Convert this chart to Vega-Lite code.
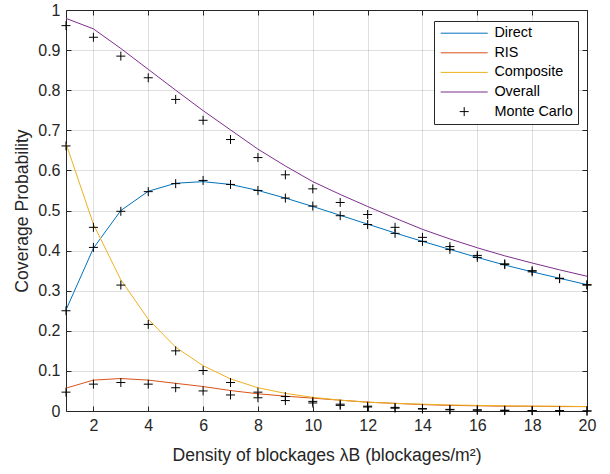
{
  "$schema": "https://vega.github.io/schema/vega-lite/v6.json",
  "width": 521,
  "height": 401,
  "autosize": {"type": "none"},
  "padding": {"left": 66, "top": 10, "right": 23, "bottom": 63},
  "background": "white",
  "config": {
    "font": "Liberation Sans",
    "view": {"stroke": null},
    "axis": {
      "domainColor": "#262626",
      "domainWidth": 1,
      "tickColor": "#262626",
      "tickWidth": 1,
      "tickSize": -5,
      "labelColor": "#262626",
      "labelFont": "Liberation Sans",
      "labelFontSize": 16,
      "labelFlush": false,
      "labelOverlap": false,
      "titleColor": "#262626",
      "titleFont": "Liberation Sans",
      "titleFontSize": 17.6,
      "titleFontWeight": "normal",
      "gridColor": "#262626",
      "gridOpacity": 0.15,
      "gridWidth": 1
    }
  },
  "datasets": {
    "lines": [
      {"x":1,"y":0.252,"s":"Direct"},{"x":2,"y":0.406,"s":"Direct"},{"x":3,"y":0.500,"s":"Direct"},{"x":4,"y":0.548,"s":"Direct"},{"x":5,"y":0.568,"s":"Direct"},{"x":6,"y":0.572,"s":"Direct"},{"x":7,"y":0.565,"s":"Direct"},{"x":8,"y":0.550,"s":"Direct"},{"x":9,"y":0.531,"s":"Direct"},{"x":10,"y":0.510,"s":"Direct"},{"x":11,"y":0.488,"s":"Direct"},{"x":12,"y":0.466,"s":"Direct"},{"x":13,"y":0.444,"s":"Direct"},{"x":14,"y":0.423,"s":"Direct"},{"x":15,"y":0.403,"s":"Direct"},{"x":16,"y":0.383,"s":"Direct"},{"x":17,"y":0.364,"s":"Direct"},{"x":18,"y":0.347,"s":"Direct"},{"x":19,"y":0.331,"s":"Direct"},{"x":20,"y":0.315,"s":"Direct"},
      {"x":1,"y":0.057,"s":"RIS"},{"x":2,"y":0.077,"s":"RIS"},{"x":3,"y":0.081,"s":"RIS"},{"x":4,"y":0.077,"s":"RIS"},{"x":5,"y":0.069,"s":"RIS"},{"x":6,"y":0.061,"s":"RIS"},{"x":7,"y":0.051,"s":"RIS"},{"x":8,"y":0.043,"s":"RIS"},{"x":9,"y":0.037,"s":"RIS"},{"x":10,"y":0.032,"s":"RIS"},{"x":11,"y":0.027,"s":"RIS"},{"x":12,"y":0.022,"s":"RIS"},{"x":13,"y":0.019,"s":"RIS"},{"x":14,"y":0.016,"s":"RIS"},{"x":15,"y":0.014,"s":"RIS"},{"x":16,"y":0.013,"s":"RIS"},{"x":17,"y":0.012,"s":"RIS"},{"x":18,"y":0.012,"s":"RIS"},{"x":19,"y":0.011,"s":"RIS"},{"x":20,"y":0.011,"s":"RIS"},
      {"x":1,"y":0.667,"s":"Composite"},{"x":2,"y":0.466,"s":"Composite"},{"x":3,"y":0.327,"s":"Composite"},{"x":4,"y":0.229,"s":"Composite"},{"x":5,"y":0.159,"s":"Composite"},{"x":6,"y":0.113,"s":"Composite"},{"x":7,"y":0.080,"s":"Composite"},{"x":8,"y":0.058,"s":"Composite"},{"x":9,"y":0.044,"s":"Composite"},{"x":10,"y":0.034,"s":"Composite"},{"x":11,"y":0.027,"s":"Composite"},{"x":12,"y":0.022,"s":"Composite"},{"x":13,"y":0.019,"s":"Composite"},{"x":14,"y":0.017,"s":"Composite"},{"x":15,"y":0.015,"s":"Composite"},{"x":16,"y":0.014,"s":"Composite"},{"x":17,"y":0.013,"s":"Composite"},{"x":18,"y":0.012,"s":"Composite"},{"x":19,"y":0.012,"s":"Composite"},{"x":20,"y":0.011,"s":"Composite"},
      {"x":1,"y":0.979,"s":"Overall"},{"x":2,"y":0.953,"s":"Overall"},{"x":3,"y":0.904,"s":"Overall"},{"x":4,"y":0.852,"s":"Overall"},{"x":5,"y":0.800,"s":"Overall"},{"x":6,"y":0.749,"s":"Overall"},{"x":7,"y":0.701,"s":"Overall"},{"x":8,"y":0.653,"s":"Overall"},{"x":9,"y":0.611,"s":"Overall"},{"x":10,"y":0.572,"s":"Overall"},{"x":11,"y":0.540,"s":"Overall"},{"x":12,"y":0.510,"s":"Overall"},{"x":13,"y":0.481,"s":"Overall"},{"x":14,"y":0.453,"s":"Overall"},{"x":15,"y":0.429,"s":"Overall"},{"x":16,"y":0.407,"s":"Overall"},{"x":17,"y":0.387,"s":"Overall"},{"x":18,"y":0.369,"s":"Overall"},{"x":19,"y":0.352,"s":"Overall"},{"x":20,"y":0.336,"s":"Overall"}
    ],
    "mc": [
      {"x":1,"y":0.250},{"x":2,"y":0.408},{"x":3,"y":0.498},{"x":4,"y":0.547},{"x":5,"y":0.567},{"x":6,"y":0.575},{"x":7,"y":0.565},{"x":8,"y":0.550},{"x":9,"y":0.531},{"x":10,"y":0.511},{"x":11,"y":0.487},{"x":12,"y":0.465},{"x":13,"y":0.443},{"x":14,"y":0.423},{"x":15,"y":0.403},{"x":16,"y":0.383},{"x":17,"y":0.365},{"x":18,"y":0.347},{"x":19,"y":0.330},{"x":20,"y":0.314},
      {"x":1,"y":0.961},{"x":2,"y":0.932},{"x":3,"y":0.885},{"x":4,"y":0.831},{"x":5,"y":0.777},{"x":6,"y":0.725},{"x":7,"y":0.677},{"x":8,"y":0.632},{"x":9,"y":0.589},{"x":10,"y":0.554},{"x":11,"y":0.520},{"x":12,"y":0.490},{"x":13,"y":0.458},{"x":14,"y":0.433},{"x":15,"y":0.410},{"x":16,"y":0.388},{"x":17,"y":0.367},{"x":18,"y":0.350},{"x":19,"y":0.331},{"x":20,"y":0.315},
      {"x":1,"y":0.661},{"x":2,"y":0.458},{"x":3,"y":0.314},{"x":4,"y":0.216},{"x":5,"y":0.150},{"x":6,"y":0.101},{"x":7,"y":0.071},{"x":8,"y":0.047},{"x":9,"y":0.036},{"x":10,"y":0.024},{"x":11,"y":0.017},{"x":12,"y":0.012},{"x":13,"y":0.009},{"x":14,"y":0.006},{"x":15,"y":0.004},{"x":16,"y":0.003},{"x":17,"y":0.002},{"x":18,"y":0.001},{"x":19,"y":0.001},{"x":20,"y":0.000},
      {"x":1,"y":0.047},{"x":2,"y":0.067},{"x":3,"y":0.071},{"x":4,"y":0.067},{"x":5,"y":0.058},{"x":6,"y":0.050},{"x":7,"y":0.040},{"x":8,"y":0.033},{"x":9,"y":0.026},{"x":10,"y":0.020},{"x":11,"y":0.014},{"x":12,"y":0.010},{"x":13,"y":0.007},{"x":14,"y":0.005},{"x":15,"y":0.003},{"x":16,"y":0.002},{"x":17,"y":0.001},{"x":18,"y":0.001},{"x":19,"y":0.000},{"x":20,"y":0.000}
    ]
  },
  "resolve": {"axis": {"x": "independent", "y": "independent"}},
  "layer": [
    {
      "data": {"name": "lines"},
      "mark": {"type": "line", "strokeWidth": 1, "clip": false},
      "encoding": {
        "x": {
          "field": "x", "type": "quantitative",
          "scale": {"domain": [1, 20], "nice": false, "zero": false},
          "axis": {
            "orient": "bottom",
            "values": [2,4,6,8,10,12,14,16,18,20],
            "format": "d",
            "labelPadding": 11,
            "grid": true,
            "title": "Density of blockages λB (blockages/m²)",
            "titlePadding": 13
          }
        },
        "y": {
          "field": "y", "type": "quantitative",
          "scale": {"domain": [0, 1], "nice": false},
          "axis": {
            "orient": "left",
            "values": [0,0.1,0.2,0.3,0.4,0.5,0.6,0.7,0.8,0.9,1],
            "format": ".1~f",
            "labelPadding": 11,
            "grid": true,
            "title": "Coverage Probability",
            "titlePadding": 6
          }
        },
        "color": {
          "field": "s", "type": "nominal",
          "scale": {
            "domain": ["Direct", "RIS", "Composite", "Overall", "Monte Carlo"],
            "range": ["#0072BD", "#D95319", "#EDB120", "#7E2F8E", "#000000"]
          },
          "legend": {
            "title": null,
            "orient": "none",
            "legendX": 368,
            "legendY": 11,
            "padding": 5,
            "strokeColor": "#262626",
            "fillColor": "white",
            "labelFont": "Liberation Sans",
            "labelFontSize": 14.4,
            "labelColor": "#000000",
            "labelOffset": 41,
            "rowPadding": 4.6,
            "symbolSize": 100,
            "symbolStrokeWidth": 1,
            "symbolType": "M-1.1,0H8.3",
            "encode": {
              "symbols": {
                "update": {
                  "shape": {"signal": "datum.value === 'Monte Carlo' ? 'M2.7,0H4.5M3.6,-0.9V0.9' : 'M-1.1,0H8.3'"},
                  "fill": {"value": "transparent"},
                  "strokeWidth": {"value": 1}
                }
              }
            }
          }
        },
        "order": {"value": 0}
      }
    },
    {
      "data": {"name": "mc"},
      "mark": {
        "type": "point",
        "shape": "M-1,0H1M0,-1V1",
        "size": 81,
        "filled": false,
        "stroke": "#000000",
        "strokeWidth": 1,
        "opacity": 1,
        "clip": false
      },
      "encoding": {
        "x": {
          "field": "x", "type": "quantitative",
          "scale": {"domain": [1, 20], "nice": false, "zero": false},
          "axis": {
            "orient": "top",
            "values": [2,4,6,8,10,12,14,16,18,20],
            "labels": false,
            "grid": false,
            "title": null
          }
        },
        "y": {
          "field": "y", "type": "quantitative",
          "scale": {"domain": [0, 1], "nice": false},
          "axis": {
            "orient": "right",
            "values": [0,0.1,0.2,0.3,0.4,0.5,0.6,0.7,0.8,0.9,1],
            "labels": false,
            "grid": false,
            "title": null
          }
        }
      }
    }
  ]
}
